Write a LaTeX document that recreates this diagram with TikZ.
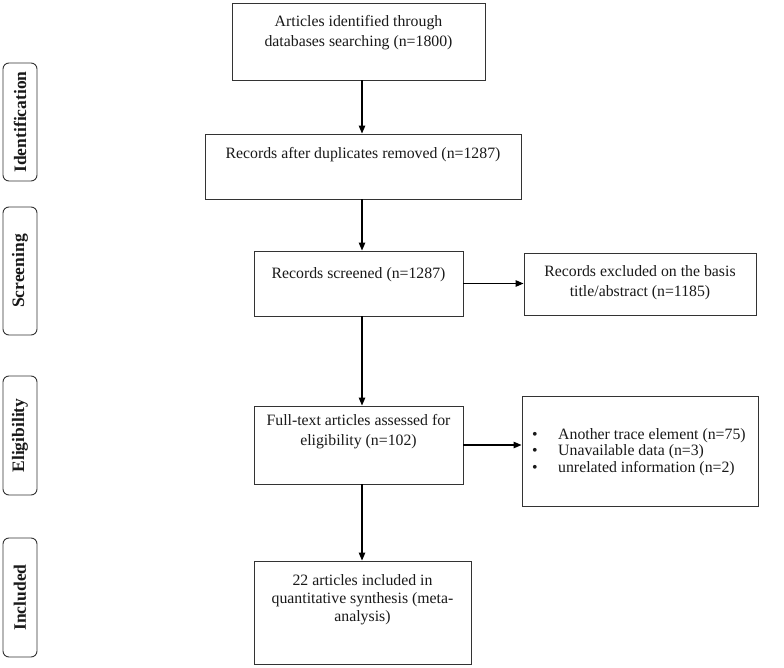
\documentclass[tikz,border=0pt]{standalone}
\usepackage{fontspec}
\setmainfont{Liberation Serif}
\usetikzlibrary{arrows.meta}
\begin{document}
\begin{tikzpicture}[x=1pt,y=-1pt,
  box/.style={draw=black!80, line width=0.9pt, rectangle, inner sep=0pt},
  txt/.style={font=\fontsize{15.8}{20}\selectfont, align=center, inner sep=0pt, text=black!90},
  side/.style={draw=black!80, line width=0.9pt, rounded corners=6pt, inner sep=0pt, minimum width=34pt},
  sidetxt/.style={font=\fontsize{17.5}{20}\selectfont\bfseries, rotate=90, inner sep=0pt, text=black!90},
  arr/.style={line width=1.1pt, -{Triangle[length=8pt,width=6.5pt]}}]
\useasboundingbox (0,0) rectangle (784,668);
\fill[white] (0,0) rectangle (784,668);
% side labels
\node[side, minimum height=118pt] (sid) at (20,122) {};
\node[sidetxt] (sidt) at (20,122) {Identification};
\node[side, minimum height=128pt] (sscr) at (20,271) {};
\node[sidetxt] (sscrt) at (20,271) {Screening};
\node[side, minimum height=119pt] (sel) at (20,435.5) {};
\node[sidetxt] (selt) at (20,435.5) {Eligibility};
\node[side, minimum height=119pt] (sinc) at (20,597.5) {};
\node[sidetxt] (sinct) at (20,597.5) {Included};
% main boxes
\node[box, minimum width=253pt, minimum height=77pt] (b1) at (358.5,41.5) {};
\node[txt] (b1t) at (358.5,33) {Articles identified through\\databases searching (n=1800)};
\node[box, minimum width=316pt, minimum height=65pt] (b2) at (363,166.5) {};
\node[txt] (b2t) at (363,155) {Records after duplicates removed (n=1287)};
\node[box, minimum width=209pt, minimum height=65pt] (b3) at (358.5,283.5) {};
\node[txt] (b3t) at (358.5,275) {Records screened (n=1287)};
\node[box, minimum width=232pt, minimum height=62pt] (e1) at (640,284) {};
\node[txt] (e1t) at (640,283) {Records excluded on the basis\\title/abstract (n=1185)};
\node[box, minimum width=209pt, minimum height=78pt] (b4) at (358.5,445) {};
\node[txt] (b4t) at (358.5,432) {Full-text articles assessed for\\eligibility (n=102)};
\node[box, minimum width=236pt, minimum height=110pt] (e2) at (640,451) {};
\node[txt, align=left, anchor=west, font=\fontsize{15.8}{16.8}\selectfont] (e2t) at (532,452)
  {\makebox[26pt][l]{\textbullet}Another trace element (n=75)\\
   \makebox[26pt][l]{\textbullet}Unavailable data (n=3)\\
   \makebox[26pt][l]{\textbullet}unrelated information (n=2)};
\node[box, minimum width=217pt, minimum height=103pt] (b5) at (362.5,612.5) {};
\node[txt, font=\fontsize{15.8}{18}\selectfont] (b5t) at (362.5,600) {22 articles included in\\quantitative synthesis (meta-\\analysis)};
% arrows
\coordinate (cx) at (362,0);
\draw[arr] (b1.south -| cx) -- (b2.north -| cx);
\draw[arr] (b2.south -| cx) -- (b3.north -| cx);
\draw[arr] (b3.south -| cx) -- (b4.north -| cx);
\draw[arr] (b4.south -| cx) -- (b5.north -| cx);
\draw[arr] (b3.east) -- (b3.east -| e1.west);
\draw[arr] (b4.east) -- (b4.east -| e2.west);
\end{tikzpicture}
\end{document}
